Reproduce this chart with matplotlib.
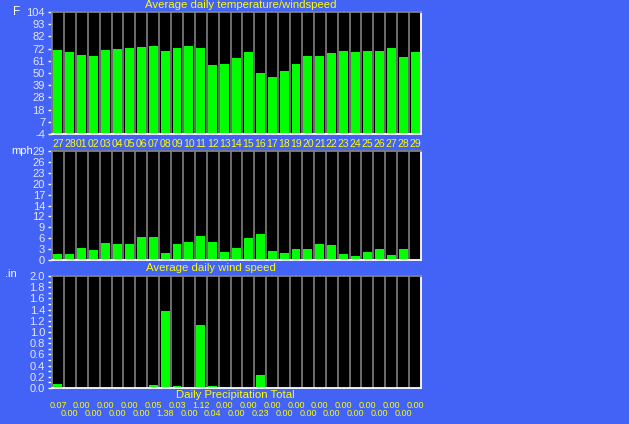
import matplotlib
matplotlib.use("Agg")
import matplotlib.pyplot as plt
import numpy as np

days = ["27", "28", "01", "02", "03", "04", "05", "06", "07", "08", "09", "10", "11", "12", "13",
        "14", "15", "16", "17", "18", "19", "20", "21", "22", "23", "24", "25", "26", "27", "28", "29"]
temp = [70.2, 68.4, 65.7, 64.9, 70.2, 71.1, 72.0, 72.8, 73.7, 69.3, 72.0, 73.7, 72.0, 57.0, 57.8,
        63.1, 68.4, 49.8, 46.3, 51.6, 57.8, 64.9, 64.9, 67.5, 69.3, 68.4, 69.3, 69.3, 72.0, 64.0, 68.4]
wind = [1.6, 1.6, 3.2, 2.7, 4.5, 4.2, 4.2, 6.1, 6.1, 1.9, 4.2, 4.8, 6.4, 4.8, 2.1,
        3.2, 5.8, 6.9, 2.4, 1.9, 2.9, 2.9, 4.2, 3.9, 1.6, 1.1, 2.1, 2.9, 1.3, 2.9, 0.0]
precip = [0.07, 0.00, 0.00, 0.00, 0.00, 0.00, 0.00, 0.00, 0.05, 1.38, 0.03, 0.00, 1.12, 0.04, 0.00,
          0.00, 0.00, 0.23, 0.00, 0.00, 0.00, 0.00, 0.00, 0.00, 0.00, 0.00, 0.00, 0.00, 0.00, 0.00, 0.00]

temp_ticklabels = ["-4", "7", "18", "28", "39", "50", "61", "72", "82", "93", "104"]
wind_ticklabels = ["0", "3", "6", "9", "12", "14", "17", "20", "23", "26", "29"]
precip_ticklabels = ["0.0", "0.2", "0.4", "0.6", "0.8", "1.0", "1.2", "1.4", "1.6", "1.8", "2.0"]

BG = "#4263F5"
YEL = "#FFFF00"
TICKC = "#E6E6FF"
GREEN = "#00FF00"
GRAY = "#808080"
FONT = "Liberation Sans"

W, H = 629, 424
fig = plt.figure(figsize=(W / 100, H / 100), dpi=100, facecolor=BG)


def px_axes(left, top, right, bottom):
    return fig.add_axes([left / W, 1 - bottom / H, (right - left) / W, (bottom - top) / H])


n = len(days)
x = np.arange(n) + 0.5


def style(ax, ymin, ymax, ticks, labels, minor=None):
    ax.set_facecolor("black")
    ax.set_xlim(0, n)
    ax.set_ylim(ymin, ymax)
    for xv in range(1, n):
        ax.axvline(xv, color=GRAY, lw=1.2, zorder=1)
    ax.spines["top"].set_color(GRAY)
    ax.spines["left"].set_color(GRAY)
    ax.spines["right"].set_color("white")
    ax.spines["bottom"].set_color("white")
    for s in ax.spines.values():
        s.set_linewidth(1.3)
    ax.set_xticks([])
    ax.set_yticks(ticks)
    ax.set_yticklabels(labels, fontsize=8, color=TICKC, family=FONT)
    ax.tick_params(axis="y", colors="white", length=3, width=1, pad=2, labelcolor=TICKC)
    if minor is not None:
        ax.set_yticks(minor, minor=True)
        ax.tick_params(axis="y", which="minor", colors="white", length=3, width=1)


# Temperature panel
ax1 = px_axes(52, 12, 421, 134)
style(ax1, -4, 104, np.linspace(-4, 104, len(temp_ticklabels)), temp_ticklabels)
ax1.bar(x, np.array(temp) + 4, bottom=-4, width=0.75, color=GREEN, zorder=2)
for xi, d in zip(x, days):
    ax1.text(xi, -8.5, d, ha="center", va="top", color=YEL, fontsize=7.5, family=FONT)
fig.text(13 / W, 1 - 12 / H, "F", color="white", fontsize=8.5, family=FONT, va="center", ha="left")
fig.text(241 / W, 1 - 5 / H, "Average daily temperature/windspeed", color=YEL, fontsize=8.2,
         family=FONT, ha="center", va="center")

# Wind panel
ax2 = px_axes(52, 151, 421, 260)
style(ax2, 0, 29, np.linspace(0, 29, len(wind_ticklabels)), wind_ticklabels)
ax2.bar(x, wind, width=0.75, color=GREEN, zorder=2)
fig.text(33 / W, 1 - 151 / H, "mph", color="white", fontsize=8, family=FONT, va="center", ha="right")
fig.text(211 / W, 1 - 268 / H, "Average daily wind speed", color=YEL, fontsize=8.2,
         family=FONT, ha="center", va="center")

# Precip panel
ax3 = px_axes(52, 276, 421, 388)
style(ax3, 0, 2.0, np.linspace(0, 2.0, len(precip_ticklabels)), precip_ticklabels,
      minor=np.arange(0.1, 2.0, 0.2))
ax3.bar(x, precip, width=0.75, color=GREEN, zorder=2)
fig.text(5 / W, 1 - 274 / H, ".in", color="white", fontsize=8, family=FONT, va="center", ha="left")
fig.text(235 / W, 1 - 395 / H, "Daily Precipitation Total", color=YEL, fontsize=8.2,
         family=FONT, ha="center", va="center")
for i, (xi, v) in enumerate(zip(x, precip)):
    ypx = 405 if i % 2 == 0 else 413
    xpx = 52 + xi * (369 / n)
    fig.text(xpx / W, 1 - ypx / H, f"{v:.2f}", color=YEL, fontsize=6.5, family=FONT,
             ha="center", va="center")

fig.savefig("out.png", dpi=100, facecolor=BG)
